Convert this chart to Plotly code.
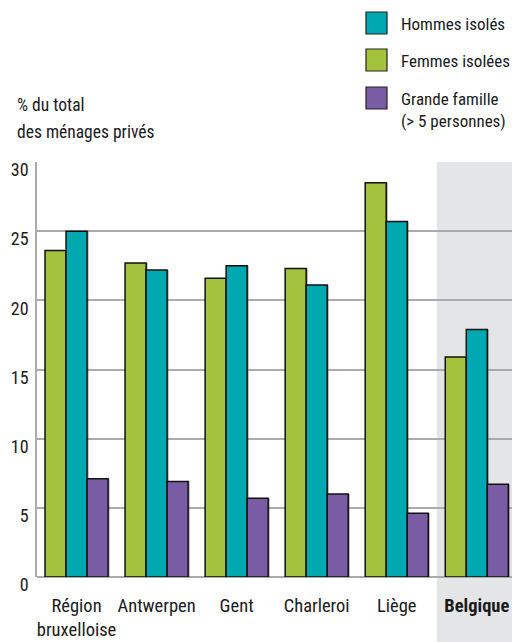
import plotly.graph_objects as go

# Share of private households by type, per city
categories = ["Région bruxelloise", "Antwerpen", "Gent", "Charleroi", "Liège", "Belgique"]
tick_labels = ["Région<br>bruxelloise", "Antwerpen", "Gent", "Charleroi", "Liège", "<b>Belgique</b>"]
femmes_isolees = [23.6, 22.7, 21.6, 22.3, 28.5, 15.9]
hommes_isoles = [25.0, 22.2, 22.5, 21.1, 25.7, 17.9]
grande_famille = [7.1, 6.9, 5.7, 6.0, 4.6, 6.7]
y_ticks = [0, 5, 10, 15, 20, 25, 30]

GREEN = "#a3c23e"
TEAL = "#00a8b1"
PURPLE = "#7a5ca4"
GRID = "#ababab"
BAND = "#e4e5e7"
FONT = "Roboto Condensed, Roboto, sans-serif"

W, H = 512, 642
ML, MR, MT, MB = 37, 0, 162, 65
PW, PH = W - ML - MR, H - MT - MB


def px_x(px):
    return (px - ML) / PW


def px_y(py):
    return (H - MB - py) / PH


BAR_W = 0.2625           # width of one bar in category units
SHADOW_DX = 0.022        # small drop-shadow offset to the right
series = [
    ("Femmes isolées", femmes_isolees, GREEN),
    ("Hommes isolés", hommes_isoles, TEAL),
    ("Grande famille (> 5 personnes)", grande_famille, PURPLE),
]

fig = go.Figure()
# soft shadows first, then the bars on top
for i, (name, vals, col) in enumerate(series):
    off = -1.5 * BAR_W + i * BAR_W
    fig.add_trace(go.Bar(
        x=categories, y=vals, offset=off + SHADOW_DX, width=BAR_W,
        marker=dict(color="rgba(60,60,60,0.35)", line=dict(width=0)),
        showlegend=False, hoverinfo="skip",
    ))
for i, (name, vals, col) in enumerate(series):
    off = -1.5 * BAR_W + i * BAR_W
    fig.add_trace(go.Bar(
        x=categories, y=vals, name=name, offset=off, width=BAR_W,
        marker=dict(color=col, line=dict(color="#111111", width=1.5)),
        showlegend=False, hoverinfo="x+y+name",
    ))

shapes = []
# Highlight band behind the national figure
shapes.append(dict(type="rect", xref="x", yref="paper", x0=4.5, x1=6, y0=-0.2, y1=1,
                   fillcolor=BAND, line=dict(width=0), layer="below"))

annotations = []
# Legend swatches and labels
legend_items = [
    (TEAL, 12, 34, ["Hommes isolés"], [24]),
    (GREEN, 49, 71, ["Femmes isolées"], [61]),
    (PURPLE, 87, 109, ["Grande famille", "(> 5 personnes)"], [99, 121]),
]
for col, top, bot, lines, ys in legend_items:
    shapes.append(dict(type="rect", xref="paper", yref="paper",
                       x0=px_x(366), x1=px_x(387), y0=px_y(bot), y1=px_y(top),
                       fillcolor=col, line=dict(color="#222222", width=1.2)))
    for txt, yy in zip(lines, ys):
        annotations.append(dict(text=txt, xref="paper", yref="paper", x=px_x(399), y=px_y(yy),
                                xanchor="left", yanchor="middle", showarrow=False,
                                font=dict(family=FONT, size=17, color="#1a1a1a")))

# Axis title in the top-left corner
for txt, yy in [("% du total", 105), ("des ménages privés", 132)]:
    annotations.append(dict(text=txt, xref="paper", yref="paper", x=px_x(15), y=px_y(yy),
                            xanchor="left", yanchor="middle", showarrow=False,
                            font=dict(family=FONT, size=17.5, color="#1a1a1a")))

fig.update_layout(
    width=W, height=H, autosize=False,
    margin=dict(l=ML, r=MR, t=MT, b=MB, pad=0),
    paper_bgcolor="white", plot_bgcolor="white",
    barmode="overlay",
    shapes=shapes, annotations=annotations,
    font=dict(family=FONT, size=17, color="#1a1a1a"),
)
fig.update_xaxes(
    tickmode="array", tickvals=categories, ticktext=tick_labels,
    range=[-0.494, 5.44], showgrid=False, zeroline=False, showline=False,
    ticks="", ticklabelstandoff=15, tickangle=0, automargin=False,
    tickfont=dict(family=FONT, size=18.5, color="#1a1a1a"),
)
fig.update_yaxes(
    range=[0, 30], tickvals=y_ticks, showgrid=True, gridcolor=GRID, gridwidth=1.5,
    zeroline=True, zerolinecolor=GRID, zerolinewidth=1.5,
    showline=True, linecolor=GRID, linewidth=1.5, automargin=False,
    ticks="", ticklabelshift=8, ticklabelstandoff=3,
    tickfont=dict(family=FONT, size=18, color="#1a1a1a"),
)

fig.write_html("out.html")
